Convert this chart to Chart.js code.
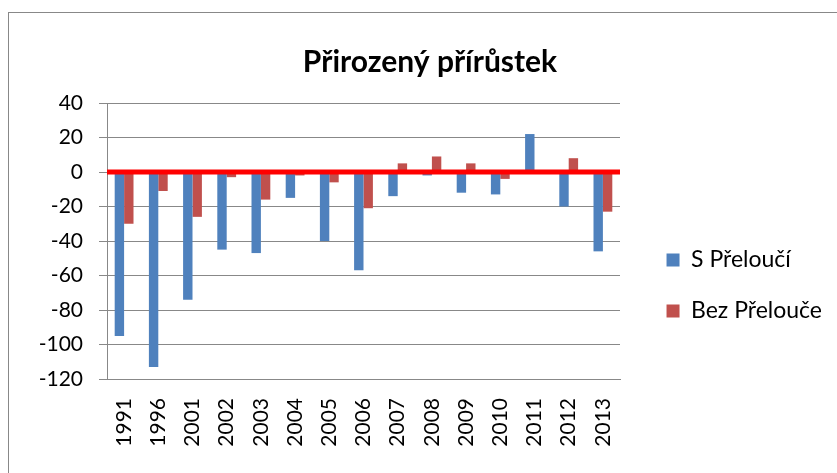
<!DOCTYPE html>
<html>
<head>
<meta charset="utf-8">
<script src="https://cdn.jsdelivr.net/npm/chart.js@4"></script>
<style>
  body { margin: 0; background: #fff; }
  #frame { position: absolute; left: 8px; top: 12px; width: 900px; height: 500px; border: 1px solid #888; }
  #wrap { position: absolute; left: 0; top: 0; width: 837px; height: 473px; }
</style>
</head>
<body>
<div id="frame"></div>
<div id="wrap"><canvas id="chart"></canvas></div>
<script>
// data
var years = ["1991", "1996", "2001", "2002", "2003", "2004", "2005", "2006", "2007", "2008", "2009", "2010", "2011", "2012", "2013"];
var sPrelouci = [-95, -113, -74, -45, -47, -15, -40, -57, -14, -2, -12, -13, 22, -20, -46];
var bezPrelouce = [-30, -11, -26, -3, -16, -2, -6, -21, 5, 9, 5, -4, 0, 8, -23];
var yTicks = { min: -120, max: 40, step: 20 };

// thick red line at zero, drawn over the bars
var zeroLine = {
    id: 'zeroLine',
    afterDatasetsDraw: function(chart) {
        var y = chart.scales.y.getPixelForValue(0);
        var ctx = chart.ctx;
        ctx.save();
        ctx.strokeStyle = '#ff0000';
        ctx.lineWidth = 5;
        ctx.beginPath();
        ctx.moveTo(chart.chartArea.left, y);
        ctx.lineTo(chart.chartArea.right, y);
        ctx.stroke();
        ctx.restore();
    }
};

var ctx = document.getElementById("chart");

var chartGraph = new Chart(ctx, {
    type: 'bar',
    data: {
        labels: years,
        datasets: [{
            label: "S Přeloučí",
            data: sPrelouci,
            backgroundColor: '#4f81bd',
            borderWidth: 0
        },
        {
            label: "Bez Přelouče",
            data: bezPrelouce,
            backgroundColor: '#c0504d',
            borderWidth: 0
        }]
    },
    options: {
        responsive: true,
        maintainAspectRatio: false,
        animation: false,
        categoryPercentage: 0.55,
        barPercentage: 1,
        layout: { padding: { left: 28, right: 5, top: 0, bottom: 0 } },
        plugins: {
            title: {
                display: true,
                text: 'Přirozený přírůstek',
                color: '#000',
                font: { family: 'Lato', size: 30, weight: 'bold' },
                padding: { top: 44, bottom: 23 }
            },
            legend: {
                position: 'right',
                align: 'start',
                maxWidth: 240,
                title: { display: true, text: '', padding: { top: 206.1, bottom: 0 } },
                labels: {
                    boxWidth: 13,
                    boxHeight: 13,
                    padding: 28,
                    color: '#000',
                    font: { family: 'Lato', size: 23 }
                }
            },
            tooltip: { enabled: false }
        },
        scales: {
            x: {
                grid: { display: false, drawTicks: false },
                border: { display: true, color: '#888', width: 1 },
                ticks: {
                    autoSkip: false,
                    minRotation: 90,
                    maxRotation: 90,
                    padding: 19,
                    color: '#000',
                    font: { family: 'Lato', size: 21 }
                },
                afterFit: function(s) { s.height = 94; }
            },
            y: {
                min: yTicks.min,
                max: yTicks.max,
                grid: { color: '#888', lineWidth: 1, tickLength: 8, tickColor: '#888' },
                border: { display: true, color: '#888', width: 1 },
                ticks: {
                    stepSize: yTicks.step,
                    padding: 16,
                    color: '#000',
                    font: { family: 'Lato', size: 21 }
                },
                afterFit: function(s) { s.width = 79; }
            },
            gap: {
                position: 'right',
                display: true,
                grid: { display: false, drawTicks: false },
                border: { display: false },
                ticks: { display: false },
                afterFit: function(s) {
                    var lg = s.chart.legend;
                    s.width = Math.max(0, 837 - 5 - lg.width - 620);
                }
            }
        }
    },
    plugins: [zeroLine]
});
</script>
</body>
</html>
